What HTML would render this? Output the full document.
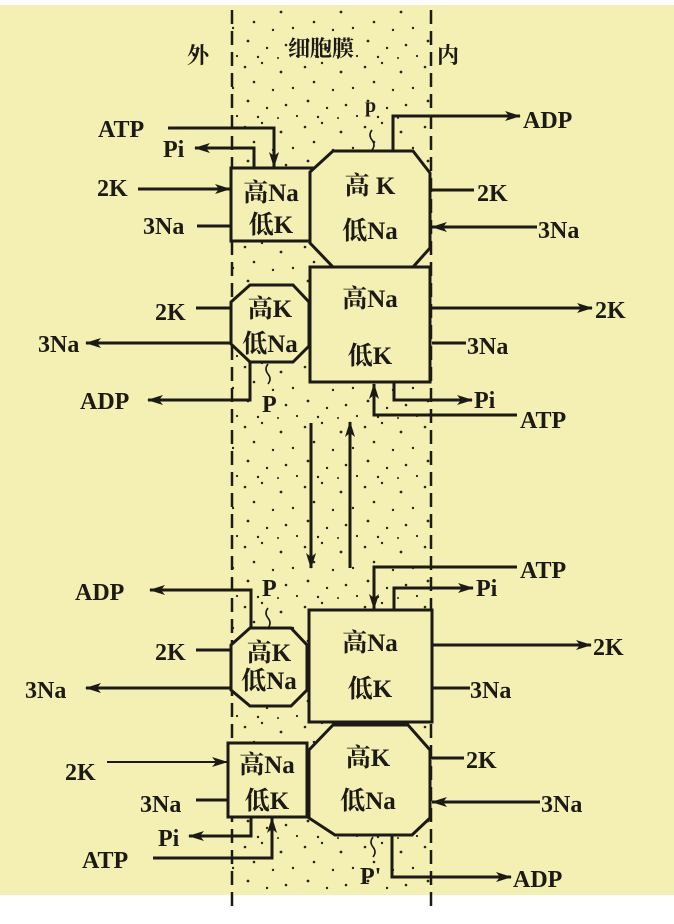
<!DOCTYPE html>
<html><head><meta charset="utf-8"><style>
html,body{margin:0;padding:0;background:#fff}
svg{display:block}
text{font-family:"Liberation Serif","Noto Serif CJK SC","Noto Sans CJK SC",serif;font-weight:bold;fill:#1c1a14}
.c{font-family:"Noto Serif CJK SC","Noto Sans CJK SC",serif;font-weight:bold}
</style></head><body>
<svg width="674" height="924" viewBox="0 0 674 924" xmlns="http://www.w3.org/2000/svg">
<defs>
<marker id="a" viewBox="0 0 16 10" refX="15" refY="5" markerWidth="16" markerHeight="10" markerUnits="userSpaceOnUse" orient="auto">
<path d="M0,0 L16,5 L0,10 L4,5 z" fill="#1c1a14"/></marker>
<pattern id="dots" width="60" height="60" patternUnits="userSpaceOnUse">
<g fill="#2a261c">
<circle cx="5" cy="7" r="1.3"/><circle cx="22" cy="3" r="1.2"/><circle cx="41" cy="12" r="1.4"/><circle cx="53" cy="28" r="1.2"/>
<circle cx="14" cy="22" r="1.3"/><circle cx="33" cy="30" r="1.2"/><circle cx="8" cy="41" r="1.4"/><circle cx="27" cy="48" r="1.2"/>
<circle cx="46" cy="45" r="1.3"/><circle cx="57" cy="56" r="1.1"/><circle cx="18" cy="57" r="1.2"/><circle cx="38" cy="58" r="1"/>
</g></pattern>
</defs>
<rect x="0" y="5" width="674" height="890" fill="#f4efb2"/>
<rect x="232" y="10" width="199" height="885" fill="url(#dots)"/>
<g stroke="#1c1a14" stroke-width="2.5" stroke-dasharray="14,7">
<line x1="232" y1="10" x2="232" y2="907"/><line x1="431" y1="10" x2="431" y2="907"/>
</g>
<text x="187" y="63" class="c" font-size="22">外</text>
<text x="288" y="56" class="c" font-size="22">细胞膜</text>
<text x="437" y="63" class="c" font-size="22">内</text>

<g fill="#f4efb2" stroke="#1c1a14" stroke-width="3" stroke-linejoin="miter">
<rect x="231" y="168" width="81" height="73"/>
<polygon points="333,151 413,151 430,173 430,248 413,267 333,267 310,243 310,172"/>
<rect x="310" y="267" width="120" height="115"/>
<polygon points="250,285 293,285 309,302 309,346 293,362 250,362 231,344 231,302"/>
<rect x="309" y="610" width="123" height="112"/>
<polygon points="250,628 291,628 307,645 307,690 291,706 250,706 231,690 231,645"/>
<rect x="228" y="743" width="79" height="74"/>
<polygon points="333,725 408,725 430,750 430,818 412,835 335,835 309,818 309,750"/>
</g>

<g stroke="#1c1a14" stroke-width="3" fill="none">
<polyline points="168,128 274,128 274,167" marker-end="url(#a)"/>
<polyline points="254,168 254,148 195,148" marker-end="url(#a)"/>
<line x1="138" y1="189" x2="230" y2="189" marker-end="url(#a)"/>
<line x1="197" y1="226" x2="231" y2="226"/>
<polyline points="393,151 393,116 520,116" marker-end="url(#a)"/>
<line x1="432" y1="190" x2="474" y2="190"/>
<line x1="537" y1="227" x2="432" y2="227" marker-end="url(#a)"/>
<line x1="196" y1="308" x2="231" y2="308"/>
<line x1="231" y1="343" x2="86" y2="343" marker-end="url(#a)"/>
<polyline points="250,362 250,400 148,400" marker-end="url(#a)"/>
<line x1="430" y1="308" x2="592" y2="308" marker-end="url(#a)"/>
<line x1="432" y1="343" x2="466" y2="343"/>
<polyline points="394,382 394,400 472,400" marker-end="url(#a)"/>
<polyline points="517,415 374,415 374,384" marker-end="url(#a)"/>
<line x1="311" y1="423" x2="311" y2="568" marker-end="url(#a)"/>
<line x1="350" y1="568" x2="350" y2="422" marker-end="url(#a)"/>
<polyline points="517,567 374,567 374,609" marker-end="url(#a)"/>
<polyline points="394,610 394,588 473,588" marker-end="url(#a)"/>
<polyline points="251,628 251,590 150,590" marker-end="url(#a)"/>
<line x1="196" y1="650" x2="231" y2="650"/>
<line x1="231" y1="688" x2="86" y2="688" marker-end="url(#a)"/>
<line x1="432" y1="645" x2="591" y2="645" marker-end="url(#a)"/>
<line x1="432" y1="688" x2="470" y2="688"/>
<line x1="107" y1="762" x2="227" y2="762" stroke-width="2" marker-end="url(#a)"/>
<line x1="196" y1="800" x2="228" y2="800"/>
<polyline points="251,817 251,836 189,836" marker-end="url(#a)"/>
<polyline points="153,858 272,858 272,818" marker-end="url(#a)"/>
<line x1="432" y1="758" x2="464" y2="758"/>
<line x1="540" y1="802" x2="432" y2="802" marker-end="url(#a)"/>
<polyline points="392,835 392,877 511,877" marker-end="url(#a)"/>
<g stroke-width="1.6">
<path d="M372,130 q-4,5 0,10 q4,5 0,10"/>
<path d="M268,364 q-4,5 0,10 q4,5 0,10"/>
<path d="M268,608 q-4,5 0,10 q4,5 0,10"/>
<path d="M373,837 q-4,5 0,10 q4,5 0,10"/>
</g>
</g>

<g font-size="24">
<text x="98" y="137">ATP</text>
<text x="163" y="157">Pi</text>
<text x="97" y="196">2K</text>
<text x="143" y="234">3Na</text>
<text x="365" y="112" font-size="20">p</text>
<text x="523" y="128">ADP</text>
<text x="477" y="201">2K</text>
<text x="538" y="238">3Na</text>
<text x="155" y="320">2K</text>
<text x="38" y="352">3Na</text>
<text x="80" y="409">ADP</text>
<text x="262" y="412">P</text>
<text x="595" y="318">2K</text>
<text x="467" y="354">3Na</text>
<text x="474" y="408">Pi</text>
<text x="520" y="428">ATP</text>
<text x="520" y="578">ATP</text>
<text x="476" y="596">Pi</text>
<text x="75" y="600">ADP</text>
<text x="262" y="596">P</text>
<text x="155" y="660">2K</text>
<text x="25" y="698">3Na</text>
<text x="593" y="655">2K</text>
<text x="470" y="698">3Na</text>
<text x="65" y="780">2K</text>
<text x="140" y="812">3Na</text>
<text x="158" y="846">Pi</text>
<text x="82" y="868">ATP</text>
<text x="466" y="768">2K</text>
<text x="541" y="812">3Na</text>
<text x="360" y="884">P'</text>
<text x="513" y="887">ADP</text>
</g>

<g font-size="25" text-anchor="middle">
<text x="271" y="201"><tspan class="c">高</tspan>Na</text>
<text x="271" y="233"><tspan class="c">低</tspan>K</text>
<text x="370" y="194"><tspan class="c">高</tspan> K</text>
<text x="370" y="239"><tspan class="c">低</tspan>Na</text>
<text x="370" y="307"><tspan class="c">高</tspan>Na</text>
<text x="370" y="364"><tspan class="c">低</tspan>K</text>
<text x="270" y="317"><tspan class="c">高</tspan>K</text>
<text x="270" y="352"><tspan class="c">低</tspan>Na</text>
<text x="370" y="651"><tspan class="c">高</tspan>Na</text>
<text x="370" y="697"><tspan class="c">低</tspan>K</text>
<text x="269" y="661"><tspan class="c">高</tspan>K</text>
<text x="269" y="689"><tspan class="c">低</tspan>Na</text>
<text x="267" y="773"><tspan class="c">高</tspan>Na</text>
<text x="267" y="809"><tspan class="c">低</tspan>K</text>
<text x="368" y="766"><tspan class="c">高</tspan>K</text>
<text x="368" y="809"><tspan class="c">低</tspan>Na</text>
</g>
</svg>
</body></html>
